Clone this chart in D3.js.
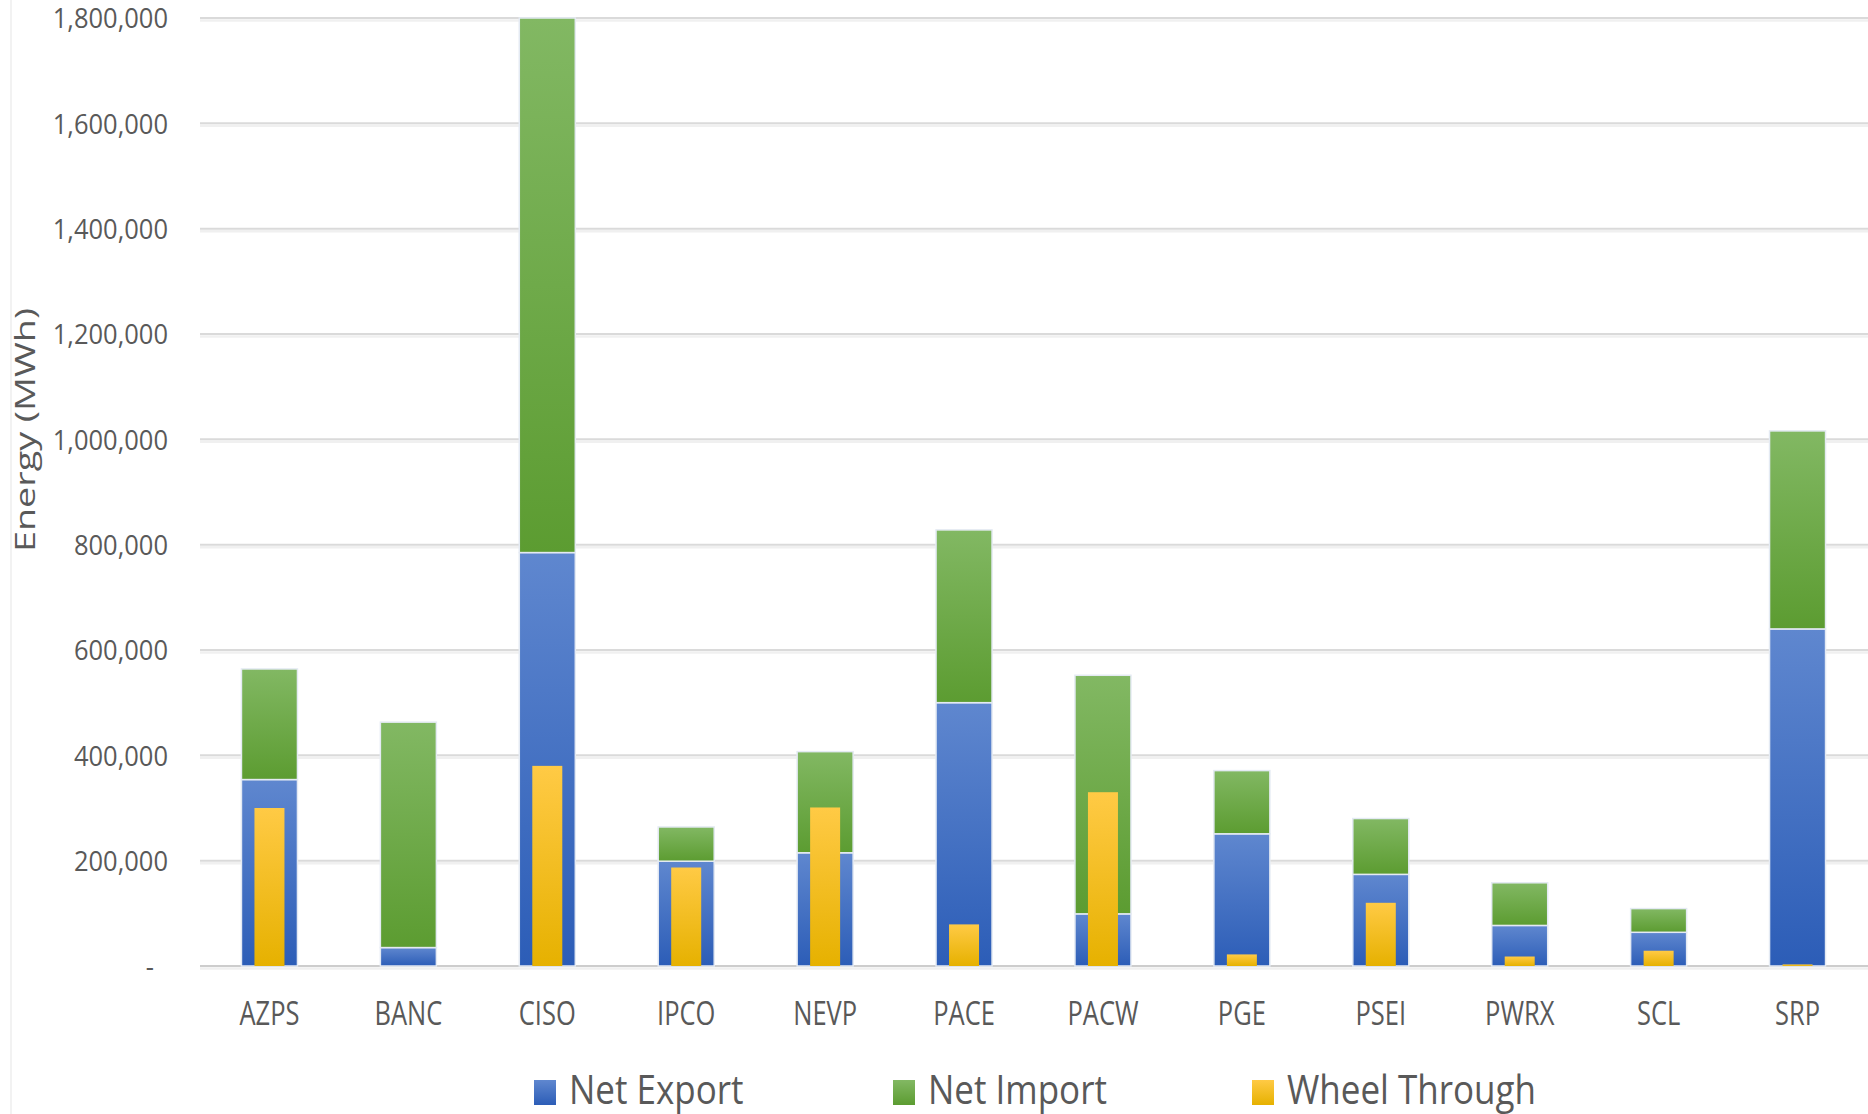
<!DOCTYPE html>
<html>
<head>
<meta charset="utf-8">
<script src="https://cdn.jsdelivr.net/npm/d3@7"></script>
<style>
  html, body { margin: 0; padding: 0; background: #ffffff; }
  svg { display: block; }
  text { font-family: "Open Sans", "Noto Sans", sans-serif; fill: #595959; }
</style>
</head>
<body>
<svg id="chart" width="1868" height="1114"></svg>
<script>
// ---- data ----
const categories = ["AZPS","BANC","CISO","IPCO","NEVP","PACE","PACW","PGE","PSEI","PWRX","SCL","SRP"];
const netExport  = [354000, 35000, 785000, 199000, 215000, 500000, 99000, 251000, 174000, 77000, 64000, 640000];
const netImport  = [210000, 428000, 1015000, 65000, 192000, 328000, 453000, 120000, 106000, 81000, 45000, 376000];
const wheelThrough = [300000, 0, 380000, 187000, 301000, 79000, 330000, 22000, 120000, 18000, 29000, 3000];
const yTicks = [0, 200000, 400000, 600000, 800000, 1000000, 1200000, 1400000, 1600000, 1800000];
const seriesNames = ["Net Export", "Net Import", "Wheel Through"];
const yTitle = "Energy (MWh)";

// ---- layout ----
const W = 1868, H = 1114;
const plot = { left: 200, right: 1867, top: 18, bottom: 966 };
const svg = d3.select("#chart");

const x = d3.scaleBand().domain(categories).range([plot.left, plot.right]).paddingInner(0).paddingOuter(0);
const y = d3.scaleLinear().domain([0, 1800000]).range([plot.bottom, plot.top]);
const barW = 56, wheelW = 30;

// gradients
const defs = svg.append("defs");
function grad(id, top, bottom) {
  const g = defs.append("linearGradient").attr("id", id)
    .attr("x1", 0).attr("y1", 0).attr("x2", 0).attr("y2", 1);
  g.append("stop").attr("offset", "0%").attr("stop-color", top);
  g.append("stop").attr("offset", "100%").attr("stop-color", bottom);
}
grad("gBlue", "#5f87cf", "#2c5db7");
grad("gGreen", "#82b863", "#5c9c31");
grad("gYellow", "#ffca45", "#e6b100");
const fills = ["url(#gBlue)", "url(#gGreen)", "url(#gYellow)"];

// chart border line at left
svg.append("line").attr("x1", 11).attr("x2", 11).attr("y1", 0).attr("y2", H)
  .attr("stroke", "#eeeeee").attr("stroke-width", 1.5);

// gridlines
const grid = svg.append("g");
grid.selectAll("line.g1").data(yTicks).join("line")
  .attr("x1", plot.left).attr("x2", plot.right + 1)
  .attr("y1", d => y(d) + 2.5).attr("y2", d => y(d) + 2.5)
  .attr("stroke", "#f0f0f0").attr("stroke-width", 2.5);
grid.selectAll("line.g0").data(yTicks).join("line")
  .attr("x1", plot.left).attr("x2", plot.right + 1)
  .attr("y1", d => y(d)).attr("y2", d => y(d))
  .attr("stroke", d => d === 0 ? "#cdcdcd" : "#dadada").attr("stroke-width", 2);

// y axis labels
const yAxis = svg.append("g").attr("transform", `translate(${plot.left},0)`)
  .call(d3.axisLeft(y).tickValues(yTicks).tickSize(0)
    .tickFormat(d => d === 0 ? "-" : d3.format(",")(d)));
yAxis.select(".domain").remove();
yAxis.selectAll("text")
  .attr("x", d => d === 0 ? -46 : -32)
  .attr("dy", "0.36em")
  .attr("transform", "scale(1,1.06)")
  .style("font-size", "25.5px")
  .style("font-family", "'Open Sans', sans-serif")
  .attr("fill", "#595959");

// stacked bars
const rows = categories.map((c, i) => ({ cat: c, exp: netExport[i], imp: netImport[i] }));
const stack = d3.stack().keys(["exp", "imp"])(rows);
const barsG = svg.append("g");
stack.forEach((layer, li) => {
  barsG.append("g").selectAll("rect").data(layer).join("rect")
    .attr("x", d => x(d.data.cat) + x.bandwidth() / 2 - barW / 2)
    .attr("width", barW)
    .attr("y", d => y(d[1]))
    .attr("height", d => Math.max(0, y(d[0]) - y(d[1])))
    .attr("fill", fills[li])
    .attr("stroke", "#e4eaf3").attr("stroke-width", 1.5);
});
// wheel through bars (overlapping, narrower)
barsG.append("g").selectAll("rect").data(categories.map((c, i) => ({ cat: c, v: wheelThrough[i] })))
  .join("rect")
  .filter(d => d.v > 0)
  .attr("x", d => x(d.cat) + x.bandwidth() / 2 - wheelW / 2)
  .attr("width", wheelW)
  .attr("y", d => y(d.v))
  .attr("height", d => y(0) - y(d.v))
  .attr("fill", fills[2]);

// x axis labels
const xAxis = svg.append("g").attr("transform", `translate(0,${plot.bottom})`)
  .call(d3.axisBottom(x).tickSize(0));
xAxis.select(".domain").remove();
xAxis.selectAll("text")
  .attr("y", 0).attr("dy", 0)
  .attr("transform", "translate(0,59) scale(1,1.27)")
  .style("font-size", "25.5px")
  .style("font-family", "'Open Sans', sans-serif")
  .attr("fill", "#595959");

// y title
svg.append("text")
  .attr("transform", "translate(35,430) rotate(-90)")
  .attr("text-anchor", "middle")
  .attr("textLength", 244)
  .attr("lengthAdjust", "spacingAndGlyphs")
  .style("font-size", "27px")
  .text(yTitle);

// legend
const legend = svg.append("g").attr("transform", "translate(534,1080)");
const items = legend.selectAll("g").data(seriesNames).join("g")
  .attr("transform", (d, i) => `translate(${i * 359},0)`);
items.append("rect").attr("width", 22).attr("height", 25)
  .attr("fill", (d, i) => fills[i]);
items.append("text")
  .attr("transform", "translate(35,23.5) scale(1,1.14)")
  .style("font-size", "35px")
  .text(d => d);
</script>
</body>
</html>
